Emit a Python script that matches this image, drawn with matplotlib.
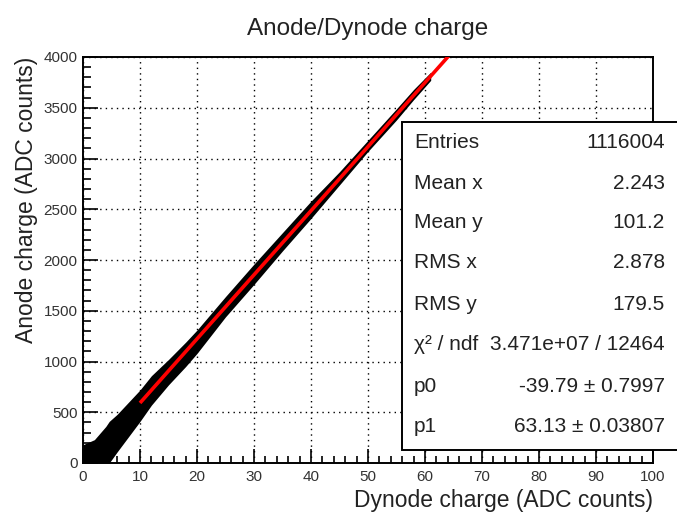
import numpy as np
import matplotlib
matplotlib.use('Agg')
import matplotlib.pyplot as plt
from matplotlib.patches import Rectangle
from matplotlib.ticker import MultipleLocator

plt.rcParams['font.family'] = ['Liberation Sans', 'DejaVu Sans']

# band of entries (dynode vs anode), edges
band_x = [0, 2, 4, 4.6, 6, 8, 10, 12, 15, 18, 20, 25, 30, 35, 40, 45, 50, 55, 58, 61]
band_lo = [0, 0, 0, 0, 110, 260, 410, 570, 770, 950, 1080, 1440, 1760, 2090, 2410, 2740, 3070, 3380, 3580, 3770]
band_hi = [180, 230, 360, 410, 480, 600, 720, 860, 1020, 1190, 1310, 1640, 1960, 2270, 2580, 2870, 3180, 3490, 3680, 3850]

# linear fit p0 + p1*x, drawn from x = 10
p0 = -39.79
p1 = 63.13
fit_range = [10, 100]

stat_labels = ['Entries', 'Mean x', 'Mean y', 'RMS x', 'RMS y',
               'χ² / ndf', 'p0', 'p1']
stat_values = ['1116004', '2.243', '101.2', '2.878', '179.5',
               '3.471e+07 / 12464', '-39.79 ± 0.7997', '63.13 ± 0.03807']

W, H = 677, 514
fig = plt.figure(figsize=(W / 100, H / 100), dpi=100)
ax = fig.add_axes([83 / W, 1 - 463 / H, (653 - 83) / W, (463 - 57) / H])

ax.fill_between(band_x, band_lo, band_hi, color='black', lw=0, zorder=2)

fx = np.array(fit_range, dtype=float)
ax.plot(fx, p0 + p1 * fx, color='red', lw=2.6, zorder=3, solid_capstyle='butt')

ax.set_xlim(0, 100)
ax.set_ylim(0, 4000)
ax.xaxis.set_major_locator(MultipleLocator(10))
ax.xaxis.set_minor_locator(MultipleLocator(2))
ax.yaxis.set_major_locator(MultipleLocator(500))
ax.yaxis.set_minor_locator(MultipleLocator(100))
ax.tick_params(which='both', direction='in', top=False, right=False,
               colors='black', labelcolor='#333333', labelsize=11, width=1.2)
ax.tick_params(axis='x', which='major', length=10, pad=5)
ax.tick_params(axis='x', which='minor', length=5)
ax.tick_params(axis='y', which='major', length=11, pad=4)
ax.tick_params(axis='y', which='minor', length=6)
ax.grid(True, which='major', color='black', linestyle=(0, (1, 3)), lw=1.0)
for s in ax.spines.values():
    s.set_linewidth(1.4)

ax.set_title('Anode/Dynode charge', fontsize=17.5, pad=16, color='#222222')
ax.set_xlabel('Dynode charge (ADC counts)', fontsize=16.5, loc='right',
              labelpad=4, color='#222222')
ax.set_ylabel('Anode charge (ADC counts)', fontsize=16.5, loc='top',
              labelpad=4, color='#222222')

# stats box
box = Rectangle((402 / W, 1 - 450 / H), (690 - 402) / W, (450 - 122) / H,
                transform=fig.transFigure, facecolor='white', edgecolor='black',
                lw=1.4, zorder=5)
fig.patches.append(box)
row_y = [142, 183, 223, 263, 304, 345, 386, 427]
for lab, val, yy in zip(stat_labels, stat_values, row_y):
    fig.text(414 / W, 1 - yy / H, lab, fontsize=15, va='center', ha='left',
             color='#222222', zorder=6)
    fig.text(665 / W, 1 - yy / H, val, fontsize=15, va='center', ha='right',
             color='#222222', zorder=6)

fig.savefig('out.png', dpi=100)
